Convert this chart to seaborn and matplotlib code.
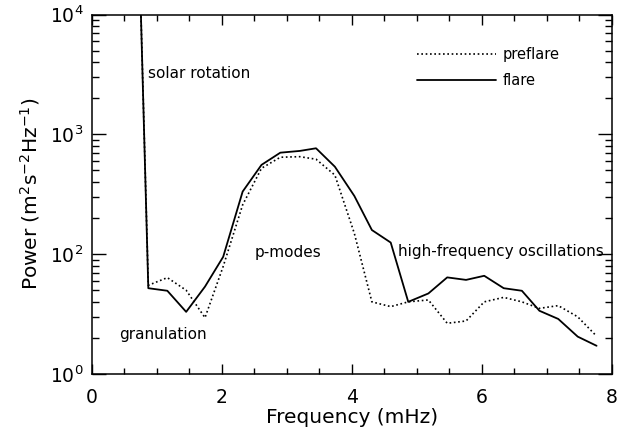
import numpy as np
import pandas as pd
import matplotlib
matplotlib.use("Agg")
import matplotlib.pyplot as plt
import seaborn as sns
from matplotlib.ticker import FixedLocator, MultipleLocator, LogLocator, NullFormatter

# ---- data ----
freq = [0.58, 0.867, 1.16, 1.45, 1.74, 2.02, 2.32, 2.61, 2.90, 3.20, 3.45, 3.74,
        4.04, 4.31, 4.60, 4.87, 5.18, 5.47, 5.76, 6.04, 6.34, 6.62, 6.89, 7.18,
        7.48, 7.77]
flare = [3.0e7, 52, 49.5, 33, 53.6, 95, 333, 556, 703, 727, 765, 537,
         306, 159, 125, 40, 47, 64, 61, 66, 52, 49.5, 33.7, 28.8, 20.5, 17.2]
preflare = [3.0e7, 55, 63.7, 50, 29.5, 79, 258, 521, 644, 651, 620, 457,
            149, 40, 36.5, 40, 41.5, 26.5, 27.7, 40, 43.6, 40, 35.3, 37.2, 30, 20.7]

ytick_vals = [10, 100, 1000, 10000]
ytick_labels = [r"$\mathregular{10^{0}}$", r"$\mathregular{10^{2}}$",
                r"$\mathregular{10^{3}}$", r"$\mathregular{10^{4}}$"]
xtick_vals = [0, 2, 4, 6, 8]

annotations = [
    ("solar rotation", 0.86, 3190),
    ("granulation", 0.42, 21.2),
    ("p-modes", 2.51, 104),
    ("high-frequency oscillations", 4.71, 105),
]

df = pd.DataFrame({"freq": freq * 2,
                   "power": preflare + flare,
                   "series": ["preflare"] * len(freq) + ["flare"] * len(freq)})

sns.set_theme(style="ticks")
plt.rcParams["font.family"] = ["DejaVu Sans"]
plt.rcParams["text.color"] = "black"
plt.rcParams["axes.labelcolor"] = "black"
plt.rcParams["xtick.color"] = "black"
plt.rcParams["ytick.color"] = "black"

fig = plt.figure(figsize=(6.25, 4.32), dpi=100)
ax = fig.add_axes([92 / 625, 1 - 374 / 432, 519.5 / 625, 359.5 / 432])

sns.lineplot(data=df[df.series == "preflare"], x="freq", y="power", ax=ax,
             color="black", linestyle=(0, (1, 1.6)), linewidth=1.2,
             label="preflare", sort=False)
sns.lineplot(data=df[df.series == "flare"], x="freq", y="power", ax=ax,
             color="black", linestyle="-", linewidth=1.3,
             label="flare", sort=False)

ax.set_yscale("log")
ax.set_xlim(0, 8)
ax.set_ylim(10, 10000)

ax.xaxis.set_major_locator(FixedLocator(xtick_vals))
ax.xaxis.set_minor_locator(MultipleLocator(0.5))
ax.yaxis.set_major_locator(FixedLocator(ytick_vals))
ax.set_yticklabels(ytick_labels)
ax.yaxis.set_minor_locator(LogLocator(base=10, subs=np.arange(2, 10)))
ax.yaxis.set_minor_formatter(NullFormatter())

ax.tick_params(which="both", direction="in", top=True, right=True,
               colors="black", width=1.0)
ax.tick_params(axis="y", which="major", length=10, labelsize=13.5, pad=6)
ax.tick_params(axis="y", which="minor", length=5)
ax.tick_params(axis="x", which="major", length=7, labelsize=13.5, pad=10)
ax.tick_params(axis="x", which="minor", length=4)

for sp in ax.spines.values():
    sp.set_visible(True)
    sp.set_color("black")
    sp.set_linewidth(1.1)

ax.set_xlabel("Frequency (mHz)", fontsize=14.5, labelpad=1, color="black")
ax.set_ylabel(r"Power (m$\mathregular{^2}$s$\mathregular{^{-2}}$Hz$\mathregular{^{-1}}$)",
              fontsize=14.5, labelpad=6, color="black")

for txt, x, y in annotations:
    ax.text(x, y, txt, fontsize=11, ha="left", va="center", color="black")

leg = ax.legend(loc="upper left", bbox_to_anchor=(0.6256, 0.909), frameon=False,
                fontsize=10.5, handlelength=5.4, handletextpad=0.5,
                labelspacing=0.75, borderpad=0, borderaxespad=0)
for t in leg.get_texts():
    t.set_color("black")

fig.savefig("out.png", dpi=100)
